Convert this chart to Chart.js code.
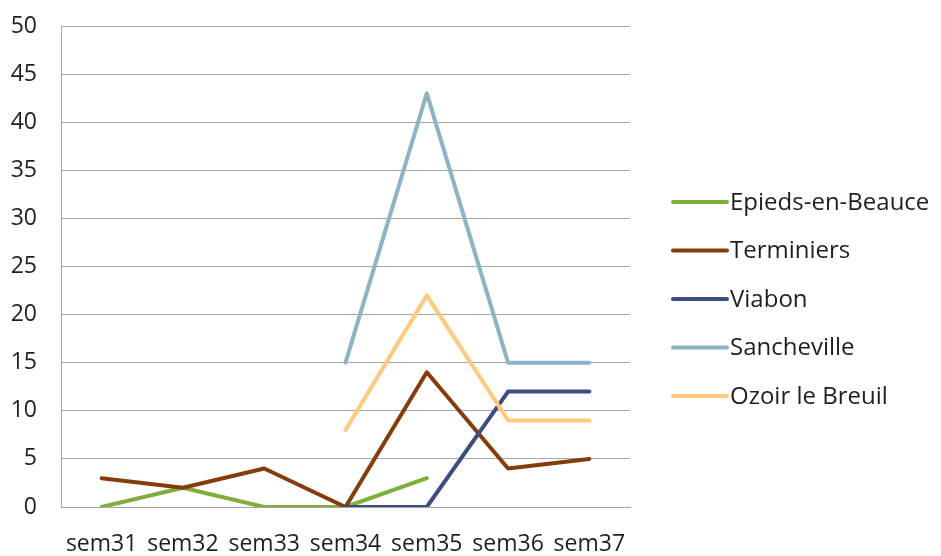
<!DOCTYPE html>
<html>
<head>
<meta charset="utf-8">
<script src="https://cdn.jsdelivr.net/npm/chart.js@4/dist/chart.umd.min.js"></script>
<style>
  html, body { margin: 0; padding: 0; background: #ffffff; }
  #wrap { width: 941px; height: 556px; position: relative; }
</style>
</head>
<body>
<div id="wrap"><canvas id="c" width="941" height="556"></canvas></div>
<script>
// Weekly counts per commune
const weeks = ['sem31', 'sem32', 'sem33', 'sem34', 'sem35', 'sem36', 'sem37'];
const epieds = [0, 2, 0, 0, 3, null, null];
const terminiers = [3, 2, 4, 0, 14, 4, 5];
const viabon = [null, null, null, 0, 0, 12, 12];
const sancheville = [null, null, null, 15, 43, 15, 15];
const ozoir = [null, null, null, 8, 22, 9, 9];
const yTicks = [0, 5, 10, 15, 20, 25, 30, 35, 40, 45, 50];

const FONT = '"Open Sans", "Liberation Sans", sans-serif';
const TEXT = '#1f1f1f';
const GRID = '#a6a6a6';

function series(label, data, color, order) {
  return {
    label, data,
    borderColor: color, backgroundColor: color,
    borderWidth: 4, borderCapStyle: 'round', borderJoinStyle: 'round',
    pointRadius: 0, pointHoverRadius: 0,
    tension: 0, spanGaps: false, order
  };
}

// Legend drawn beside the plot: short line sample then the series name
const sideLegend = {
  id: 'sideLegend',
  afterDraw(chart) {
    const ctx = chart.ctx;
    const x0 = 673, x1 = 727, top = 202, step = 48.5;
    ctx.save();
    ctx.font = '24px ' + FONT;
    ctx.textBaseline = 'middle';
    ctx.textAlign = 'left';
    chart.data.datasets.forEach((ds, i) => {
      const y = top + i * step;
      ctx.strokeStyle = ds.borderColor;
      ctx.lineWidth = 4;
      ctx.lineCap = 'round';
      ctx.beginPath();
      ctx.moveTo(x0, y);
      ctx.lineTo(x1, y);
      ctx.stroke();
      ctx.fillStyle = TEXT;
      ctx.fillText(ds.label, x1 + 3, y + 1);
    });
    ctx.restore();
  }
};

new Chart(document.getElementById('c'), {
  type: 'line',
  data: {
    labels: weeks,
    datasets: [
      series('Epieds-en-Beauce', epieds, '#80ae3a', 5),
      series('Terminiers', terminiers, '#843c0c', 4),
      series('Viabon', viabon, '#3c4d80', 3),
      series('Sancheville', sancheville, '#8cb4c6', 2),
      series('Ozoir le Breuil', ozoir, '#ffc97e', 1)
    ]
  },
  options: {
    responsive: false,
    animation: false,
    events: [],
    layout: { padding: { top: 26, right: 311, left: 0, bottom: 0 } },
    plugins: { legend: { display: false }, tooltip: { enabled: false } },
    scales: {
      x: {
        offset: true,
        grid: { display: false, drawTicks: false },
        border: { display: true, color: GRID, width: 1 },
        ticks: { color: TEXT, font: { family: FONT, size: 23 }, padding: 24, maxRotation: 0, autoSkip: false },
        afterFit(s) { s.height = 49; s.paddingLeft = 0; s.paddingRight = 0; }
      },
      y: {
        min: 0, max: 50,
        afterBuildTicks(s) { s.ticks = yTicks.map(v => ({ value: v })); },
        grid: { color: GRID, lineWidth: 1, drawTicks: false },
        border: { display: true, color: GRID, width: 1 },
        ticks: { color: TEXT, font: { family: FONT, size: 23 }, padding: 24 },
        afterFit(s) { s.width = 61; s.paddingTop = 0; s.paddingBottom = 0; }
      }
    }
  },
  plugins: [sideLegend]
});
</script>
</body>
</html>
